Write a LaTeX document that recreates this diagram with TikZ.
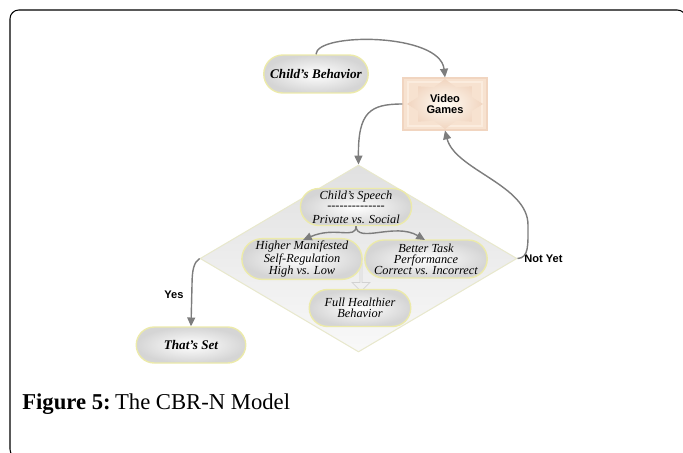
\documentclass[tikz,border=0pt]{standalone}
\usepackage{fontspec}
\setmainfont{Liberation Serif}
\newfontfamily\lsans{Liberation Sans}
\usetikzlibrary{shapes.misc,shapes.geometric,shapes.arrows,arrows.meta}
\definecolor{conncol}{RGB}{125,125,125}
\definecolor{pillborder}{RGB}{236,234,170}
\definecolor{peach}{RGB}{247,226,208}
\definecolor{peachline}{RGB}{251,236,222}
\definecolor{peachdark}{RGB}{241,213,192}
\definecolor{starcenter}{RGB}{255,252,244}
\definecolor{diamondborder}{RGB}{232,232,205}
\tikzset{
  conn/.style={draw=conncol, line width=0.8pt, -{Triangle[length=5pt,width=4.5pt]}},
  pill/.style={rounded rectangle, draw=pillborder, line width=0.8pt, shading=radial,
    inner color=white, outer color=gray!33, align=center, inner sep=1pt,
    font=\fontsize{7}{6.2}\selectfont\itshape},
  boldpill/.style={pill, font=\fontsize{7.5}{8}\selectfont\bfseries\itshape},
  sanslabel/.style={font=\lsans\fontsize{6.3}{7}\selectfont\bfseries, inner sep=0pt},
}
\begin{document}
\begin{tikzpicture}[x=0.02cm,y=-0.02cm]
\useasboundingbox (0,0) rectangle (683,453);
\begin{scope}
\clip (0,0) rectangle (683,453);
\draw[line width=0.6pt, rounded corners=5pt] (40,458) -- (10,458) -- (10,10) -- (686,10) -- (686,458);
\end{scope}

% diamond
\node[diamond, minimum width=6.34cm, minimum height=3.74cm, inner sep=0pt,
  draw=diamondborder, line width=0.6pt, top color=gray!24, bottom color=gray!5] (d) at (358.5,258.5) {};

% nodes
\node[boldpill, minimum width=2.16cm, minimum height=0.76cm] (cb) at (316,74) {Child's Behavior};

\node[rectangle, draw=peachdark, line width=0.6pt, fill=peach, minimum width=1.68cm, minimum height=1.04cm] (vg) at (445,104) {};
\begin{scope}[shift={(445,104)}]
  \draw[peachline, line width=1.2pt] (-37,-22) rectangle (37,22);
  \shade[inner color=starcenter, outer color=peachdark]
    (0:38 and 25) -- (22.5:29 and 18) -- (45:38 and 25) -- (67.5:29 and 18) --
    (90:38 and 25) -- (112.5:29 and 18) -- (135:38 and 25) -- (157.5:29 and 18) --
    (180:38 and 25) -- (202.5:29 and 18) -- (225:38 and 25) -- (247.5:29 and 18) --
    (270:38 and 25) -- (292.5:29 and 18) -- (315:38 and 25) -- (337.5:29 and 18) -- cycle;
\end{scope}
\node[sanslabel, align=center, font=\lsans\fontsize{6.3}{5.6}\selectfont\bfseries] (vgt) at (vg.center) {Video\\[1pt]Games};

\node[single arrow, shape border rotate=270, minimum width=0.36cm, minimum height=0.56cm,
  single arrow head extend=0.06cm, inner sep=0pt, fill=gray!12, draw=gray!35, line width=0.4pt] (ba) at (361,277) {};
\node[pill, minimum width=1.9cm, minimum height=0.74cm, font=\fontsize{7}{7.4}\selectfont\itshape] (cs) at (356,207)
  {Child's Speech\\[-1.5pt]\hbox to 1.15cm{\xleaders\hbox{\upshape-}\hfill}\\[0.5pt]Private vs. Social};
\node[pill, minimum width=2.14cm, minimum height=0.76cm] (hm) at (302,259)
  {Higher Manifested\\Self-Regulation\\High vs. Low};
\node[pill, minimum width=2.24cm, minimum height=0.76cm] (bt) at (426,259)
  {Better Task\\Performance\\Correct vs. Incorrect};
\node[pill, minimum width=2.1cm, minimum height=0.74cm] (fh) at (360,308)
  {Full Healthier\\Behavior};
\node[boldpill, minimum width=2.26cm, minimum height=0.72cm] (ts) at (191,345) {That's Set};

\node[sanslabel] (yes) at (174,295) {Yes};
\node[sanslabel, anchor=west] (ny) at (524,259) {Not Yet};

\coordinate (brL) at (303,240);
\coordinate (brR) at (425,240);

% connectors
\draw[conn] (cb.north) .. controls +(0,-22) and +(-5,-45) .. (vg.north);
\draw[conn] (vg.west) .. controls (370,104) and (358,112) .. (d.north);
\draw[conn] (d.west) .. controls (194,262) and (192,270) .. (192,285) -- (ts.north);
\draw[conn] (d.east) .. controls (529,258) and (528,245) .. (528,225)
  .. controls (528,185) and (455,170) .. (vg.south);
\draw[conn] (cs.south) .. controls (356,240) and (335,226) .. (brL);
\draw[conn] (cs.south) .. controls (357,244) and (395,222) .. (brR);

% caption
\node[anchor=base west, inner sep=0pt, font=\fontsize{12.9}{15}\selectfont] (cap) at (22,409)
  {\textbf{Figure 5:}\hspace{2.5pt}The CBR-N Model};
\end{tikzpicture}
\end{document}
